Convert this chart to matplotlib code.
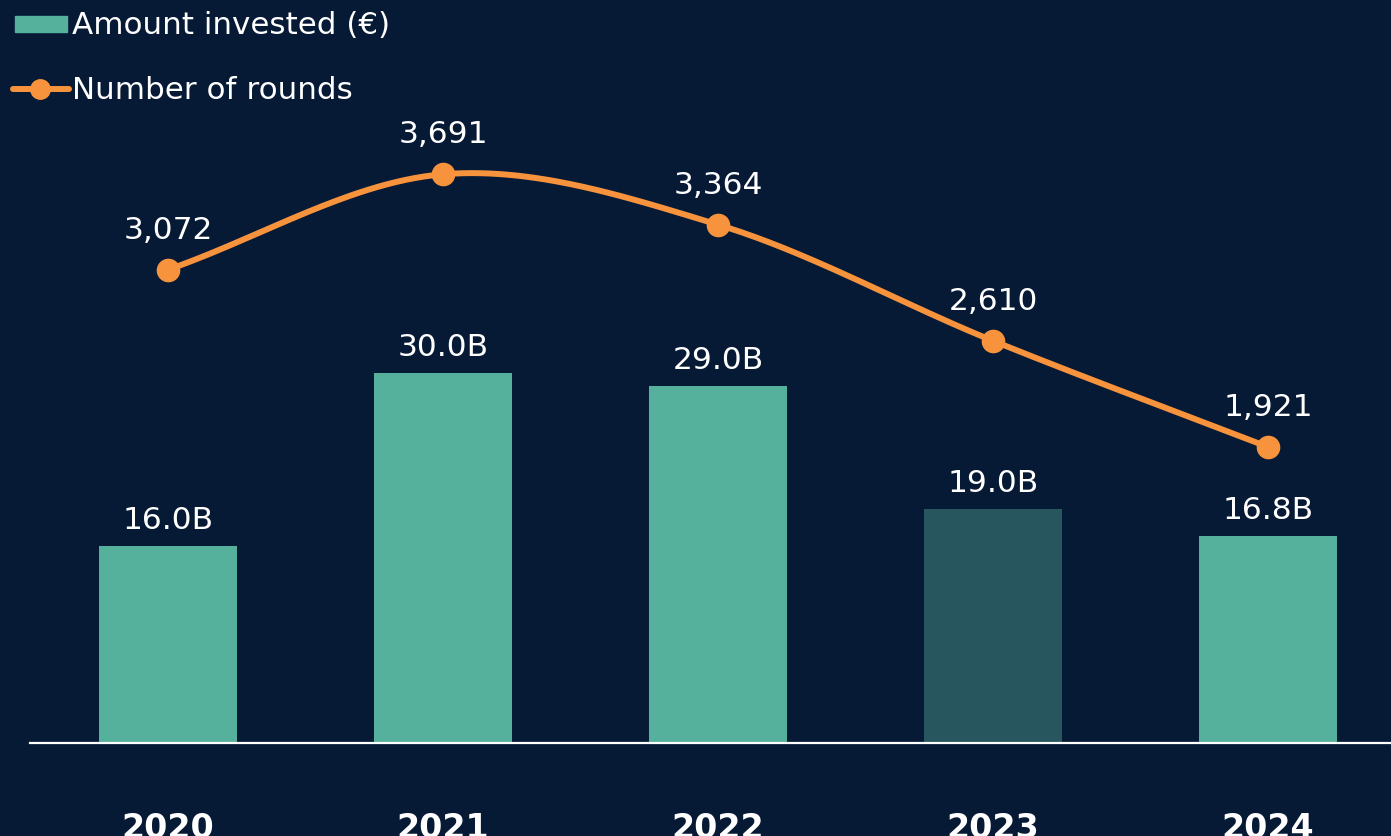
import numpy as np
import matplotlib
matplotlib.use("Agg")
import matplotlib.pyplot as plt
from matplotlib.lines import Line2D
from matplotlib.patches import Rectangle

# Data
years = ["2020", "2021", "2022", "2023", "2024"]
amount_bn = [16.0, 30.0, 29.0, 19.0, 16.8]
amount_labels = ["16.0B", "30.0B", "29.0B", "19.0B", "16.8B"]
rounds = [3072, 3691, 3364, 2610, 1921]
rounds_labels = ["3,072", "3,691", "3,364", "2,610", "1,921"]

BG = "#061935"
TEAL = "#55B19C"
TEAL_DARK = "#27565F"
ORANGE = "#F7933D"

plt.rcParams["font.family"] = ["DejaVu Sans"]

W, H, DPI = 1391, 837, 100
fig = plt.figure(figsize=(W / DPI, H / DPI), dpi=DPI, facecolor=BG)

# axes in pixel terms: left 30, right 1391, baseline 744, top 100
left, right, base, top = 30, 1391, 744, 100
ax = fig.add_axes([left / W, (H - base) / H, (right - left) / W, (base - top) / H])
ax.set_facecolor(BG)
ax2 = ax.twinx()

x = np.arange(len(years))
colors = [TEAL, TEAL, TEAL, TEAL_DARK, TEAL]
ax.bar(x, amount_bn, width=0.5, color=colors, zorder=2)
ax.set_ylim(0, (base - top) / 12.32)
ax.set_xlim(-0.502, 4.447)

for xi, v, lab in zip(x, amount_bn, amount_labels):
    ax.annotate(lab, (xi, v), xytext=(0, 13), textcoords="offset points",
                ha="center", va="baseline", color="white", fontsize=22.5)

# smooth cardinal (Catmull-Rom) curve through the round counts
y = np.array(rounds, dtype=float)
n = len(y)
tang = np.zeros(n)
tang[1:-1] = (y[2:] - y[:-2]) / 2
tang[0] = y[1] - y[0]
tang[-1] = y[-1] - y[-2]
xs, ys = [], []
for i in range(n - 1):
    t = np.linspace(0, 1, 60)
    h00 = 2 * t**3 - 3 * t**2 + 1
    h10 = t**3 - 2 * t**2 + t
    h01 = -2 * t**3 + 3 * t**2
    h11 = t**3 - t**2
    xs.append(i + t)
    ys.append(h00 * y[i] + h10 * tang[i] + h01 * y[i + 1] + h11 * tang[i + 1])
xs = np.concatenate(xs)
ys = np.concatenate(ys)

ax2.plot(xs, ys, color=ORANGE, lw=4.3, solid_capstyle="round", zorder=3)
ax2.plot(x, rounds, "o", color=ORANGE, markersize=16, zorder=4)
ax2.set_ylim(0, (base - top) * 6.49)
for xi, v, lab in zip(x, rounds, rounds_labels):
    ax2.annotate(lab, (xi, v), xytext=(0, 23), textcoords="offset points",
                 ha="center", va="baseline", color="white", fontsize=22.5)

for a in (ax, ax2):
    for s in a.spines.values():
        s.set_visible(False)
    a.set_yticks([])
ax.set_xticks([])
ax.axhline(0, color="white", lw=1.6, zorder=5, clip_on=False)

for xi, yr in zip(x, years):
    ax.annotate(yr, (xi, 0), xytext=(0, -68), textcoords="offset points",
                ha="center", va="baseline", color="white", fontsize=24,
                fontweight="bold", annotation_clip=False)

# legend
fig.patches.append(Rectangle((15 / W, 1 - 33 / H), 52 / W, 16 / H,
                             transform=fig.transFigure, color=TEAL))
fig.text(72 / W, 1 - 34 / H, "Amount invested (€)", color="white", fontsize=22.3,
         va="baseline")
fig.lines.append(Line2D([13 / W, 69 / W], [1 - 90 / H, 1 - 90 / H],
                        transform=fig.transFigure, color=ORANGE, lw=4.3,
                        solid_capstyle="round"))
fig.lines.append(Line2D([40 / W], [1 - 90 / H], transform=fig.transFigure,
                        marker="o", color=ORANGE, markersize=14))
fig.text(72 / W, 1 - 99 / H, "Number of rounds", color="white", fontsize=22.3,
         va="baseline")

fig.savefig("out.png", dpi=DPI, facecolor=BG)
